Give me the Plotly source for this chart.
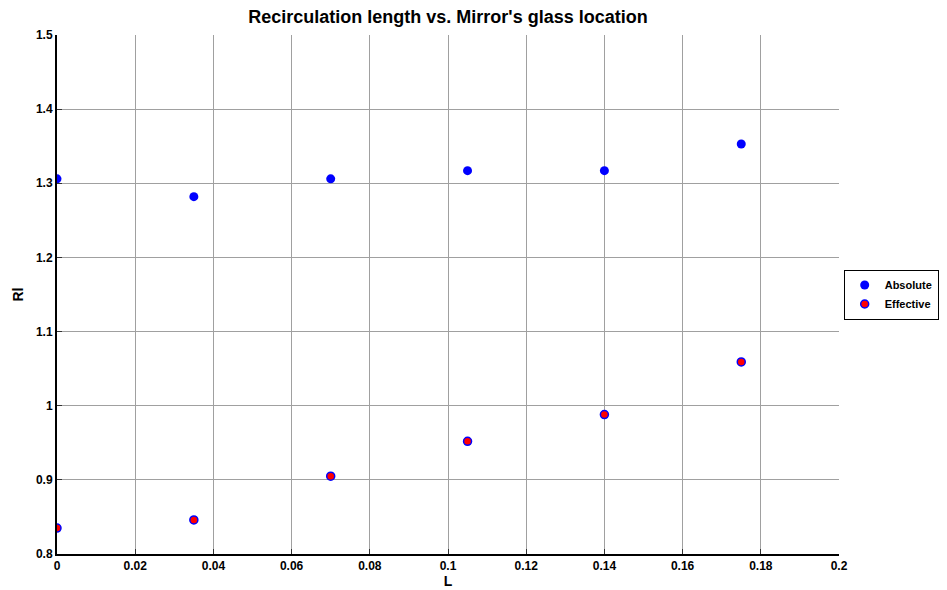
import plotly.graph_objects as go

L = [0, 0.035, 0.07, 0.105, 0.14, 0.175]
absolute = [1.306, 1.282, 1.306, 1.317, 1.317, 1.353]
effective = [0.835, 0.846, 0.905, 0.952, 0.988, 1.059]
x_ticks = [0, 0.02, 0.04, 0.06, 0.08, 0.1, 0.12, 0.14, 0.16, 0.18, 0.2]
x_labels = ["0", "0.02", "0.04", "0.06", "0.08", "0.1", "0.12", "0.14", "0.16", "0.18", "0.2"]
y_ticks = [0.8, 0.9, 1.0, 1.1, 1.2, 1.3, 1.4, 1.5]
y_labels = ["0.8", "0.9", "1", "1.1", "1.2", "1.3", "1.4", "1.5"]

font = "Arial, Liberation Sans, sans-serif"

fig = go.Figure()
fig.add_trace(go.Scatter(x=L, y=absolute, mode="markers", name="<b>Absolute</b>",
                         marker=dict(color="#0000ff", size=9, line=dict(width=0))))
fig.add_trace(go.Scatter(x=L, y=effective, mode="markers", name="<b>Effective</b>",
                         marker=dict(color="#ff0000", size=8, line=dict(color="#0000ff", width=1.5))))

fig.update_layout(
    width=939, height=582,
    margin=dict(l=49, r=108, t=27, b=36, autoexpand=False),
    paper_bgcolor="white", plot_bgcolor="white",
    font=dict(family=font, size=12, color="black"),
    title=dict(text="<b>Recirculation length vs. Mirror's glass location</b>",
               x=0.5, xref="paper", xanchor="center", y=0.985, yanchor="middle",
               font=dict(size=18, family=font)),
    showlegend=True,
    legend=dict(x=1.006, xanchor="left", y=0.5, yanchor="middle",
                bordercolor="black", borderwidth=1, bgcolor="white",
                font=dict(size=11, family=font), itemwidth=30,
                tracegroupgap=0),
)
fig.update_xaxes(
    range=[0, 0.2], tickvals=x_ticks, ticktext=[f"<b>{t}</b>" for t in x_labels],
    showgrid=True, gridcolor="#a0a0a0", gridwidth=1,
    showline=True, linecolor="black", linewidth=2, mirror=False,
    ticks="inside", ticklen=5, tickcolor="#333333", zeroline=False,
    tickfont=dict(size=12), automargin=False,
    title=dict(text="<b>L</b>", font=dict(size=14), standoff=0),
)
fig.update_yaxes(
    range=[0.8, 1.5], tickvals=y_ticks, ticktext=[f"<b>{t}</b>" for t in y_labels],
    showgrid=True, gridcolor="#a0a0a0", gridwidth=1,
    showline=True, linecolor="black", linewidth=2, mirror=False,
    ticks="inside", ticklen=5, tickcolor="#333333", zeroline=False,
    tickfont=dict(size=12), automargin=False,
    title=dict(text="<b>Rl</b>", font=dict(size=14), standoff=9),
)
fig.write_html("out.html")
